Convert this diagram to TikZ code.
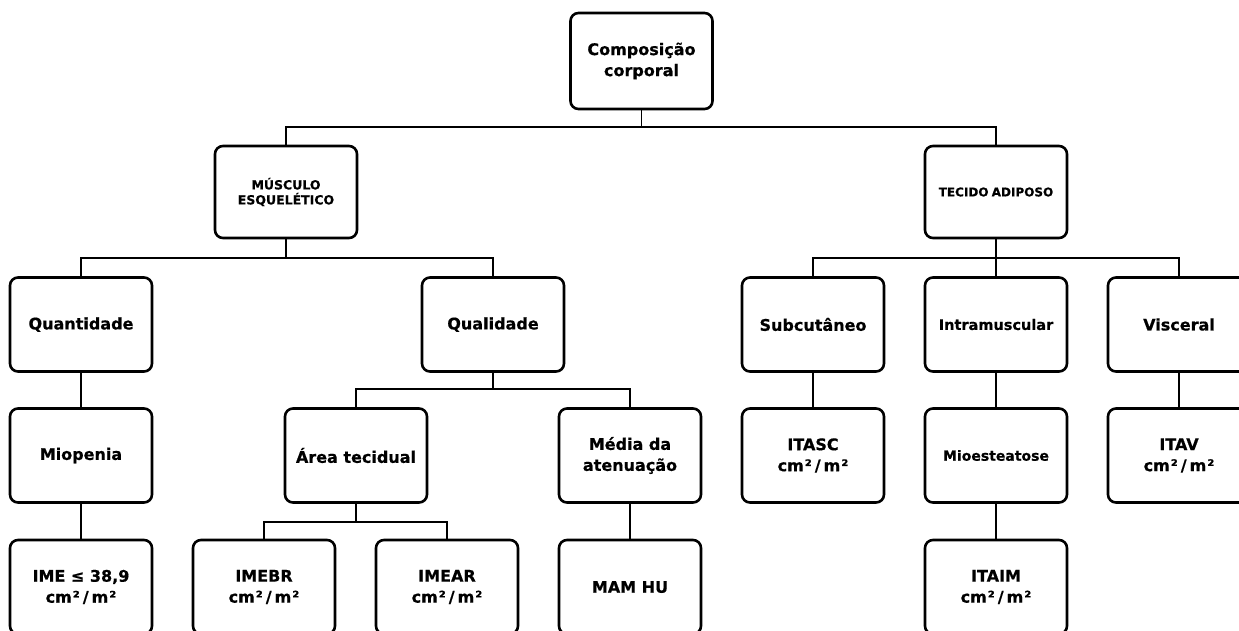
\documentclass[tikz,border=0pt]{standalone}
\usepackage{fontspec}
\setmainfont{DejaVu Sans}[BoldFeatures={FakeBold=0.6}]
\newcommand{\cmq}{cm\kern1pt²\kern3pt/\kern3pt m\kern1pt²}
\begin{document}
\begin{tikzpicture}[x=1pt,y=-1pt,
  box/.style={draw=black, line width=2.6pt, rounded corners=8pt, fill=white,
    minimum width=142pt, minimum height=94pt, inner sep=2pt, align=center,
    font=\fontsize{16}{21}\selectfont\bfseries},
  smalltxt/.style={font=\fontsize{12.5}{15}\selectfont\bfseries},
  tectxt/.style={font=\fontsize{12}{15}\selectfont\bfseries},
  midtxt/.style={font=\fontsize{14}{17}\selectfont\bfseries},
  conn/.style={draw=black, line width=1.8pt}]
\useasboundingbox (0,0) rectangle (1239,630);
\clip (0,0) rectangle (1239,630);
\node[box, minimum height=96pt] (top) at (641.5,61) {Composição\\corporal};
\node[box, minimum height=92pt, smalltxt] (musc) at (286,192) {MÚSCULO\\ESQUELÉTICO};
\node[box, minimum height=92pt, tectxt] (tec) at (996,192) {TECIDO\kern-1pt\ ADIPOSO};
\node[box] (quant) at (81,324.5) {Quantidade};
\node[box] (qual) at (493,324.5) {Qualidade};
\node[box] (subc) at (813,324.5) {Subcutâneo};
\node[box, midtxt, font=\fontsize{14.5}{17}\selectfont\bfseries] (intra) at (996,324.5) {Intramuscular};
\node[box] (visc) at (1179,324.5) {Visceral};
\node[box] (miop) at (81,455.5) {Miopenia};
\node[box] (area) at (356,455.5) {Área tecidual};
\node[box] (media) at (630,455.5) {Média da\\atenuação};
\node[box] (itasc) at (813,455.5) {ITASC\\\cmq};
\node[box, midtxt] (mioest) at (996,455.5) {Mioesteatose};
\node[box] (itav) at (1179,455.5) {ITAV\\\cmq};
\node[box] (ime) at (81,587) {IME ≤ 38,9\\\cmq};
\node[box] (imebr) at (264,587) {IMEBR\\\cmq};
\node[box] (imear) at (447,587) {IMEAR\\\cmq};
\node[box] (mam) at (630,587) {MAM HU};
\node[box] (itaim) at (996,587) {ITAIM\\\cmq};
% brackets
\coordinate (b0) at (641.5,127);
\coordinate (bL) at (286,258);
\coordinate (bR) at (996,258);
\coordinate (bQ) at (493,389);
\coordinate (bA) at (356,522);
\draw[conn] (top.south) -- (b0);
\draw[conn] (b0) -| (musc.north);
\draw[conn] (b0) -| (tec.north);
\draw[conn] (musc.south) -- (bL);
\draw[conn] (bL) -| (quant.north);
\draw[conn] (bL) -| (qual.north);
\draw[conn] (tec.south) -- (bR);
\draw[conn] (bR) -| (subc.north);
\draw[conn] (bR) -- (intra.north);
\draw[conn] (bR) -| (visc.north);
\draw[conn] (qual.south) -- (bQ);
\draw[conn] (bQ) -| (area.north);
\draw[conn] (bQ) -| (media.north);
\draw[conn] (area.south) -- (bA);
\draw[conn] (bA) -| (imebr.north);
\draw[conn] (bA) -| (imear.north);
\draw[conn] (quant.south) -- (miop.north);
\draw[conn] (miop.south) -- (ime.north);
\draw[conn] (media.south) -- (mam.north);
\draw[conn] (subc.south) -- (itasc.north);
\draw[conn] (intra.south) -- (mioest.north);
\draw[conn] (mioest.south) -- (itaim.north);
\draw[conn] (visc.south) -- (itav.north);
\end{tikzpicture}
\end{document}
